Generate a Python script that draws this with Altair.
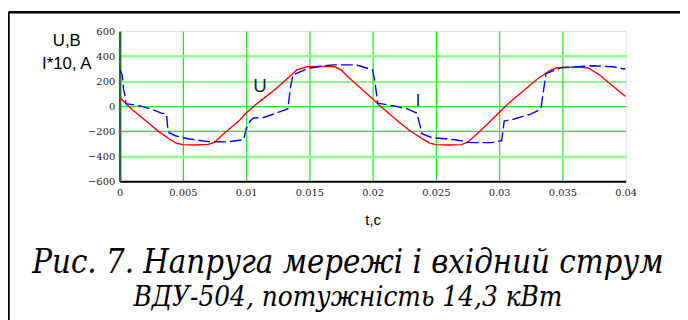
import altair as alt
import pandas as pd

# Voltage U (V) vs time t (s)
T_U = [0.0, 0.0007, 0.001, 0.002, 0.003, 0.004, 0.0045, 0.005, 0.006, 0.007,
       0.0075, 0.008, 0.0085, 0.009, 0.0095, 0.010, 0.0106, 0.012, 0.013, 0.014,
       0.0148, 0.016, 0.017, 0.0175, 0.018, 0.019, 0.020, 0.0205, 0.021, 0.022,
       0.023, 0.024, 0.0245, 0.025, 0.026, 0.027, 0.0275, 0.028, 0.029, 0.030,
       0.0305, 0.031, 0.032, 0.033, 0.034, 0.0345, 0.035, 0.036, 0.037, 0.038,
       0.039, 0.0398, 0.040]
U_VALUES = [72, 0, -28, -110, -195, -268, -296, -307, -310, -305,
            -290, -240, -197, -155, -110, -55, 0, 110, 197, 290,
            315, 318, 315, 290, 240, 150, 57, 10, -33, -120,
            -200, -265, -295, -307, -310, -307, -290, -245, -150, -50,
            0, 45, 130, 215, 285, 305, 310, 312, 307, 245,
            160, 94, 78]

# Current I*10 (A) vs time t (s)
T_I = [0.0, 0.0002, 0.0003, 0.0004, 0.0005, 0.0012, 0.0017, 0.0025, 0.0033, 0.0037,
       0.0038, 0.0039, 0.0044, 0.0054, 0.0070, 0.0085, 0.0098, 0.0100, 0.0103, 0.0106,
       0.0114, 0.0124, 0.0133, 0.0135, 0.0137, 0.0148, 0.0160, 0.0169, 0.0187, 0.0200,
       0.0202, 0.0204, 0.0218, 0.0228, 0.0235, 0.0239, 0.0247, 0.0257, 0.0265, 0.0278,
       0.0294, 0.0302, 0.0304, 0.0312, 0.0325, 0.0333, 0.0335, 0.0337, 0.0349, 0.0374,
       0.0390, 0.0398, 0.0400]
I_VALUES = [295, 250, 140, 95, 20, 10, 0, -24, -55, -63,
            -175, -212, -236, -260, -283, -285, -268, -180, -120, -94,
            -90, -55, -20, 150, 250, 299, 320, 330, 330, 290,
            181, 24, 0, -24, -55, -220, -252, -260, -268, -291,
            -291, -275, -118, -102, -63, -24, 120, 260, 307, 323,
            315, 299, 299]

X_TICKS = [0, 0.005, 0.01, 0.015, 0.02, 0.025, 0.03, 0.035, 0.04]
Y_TICKS = [-600, -400, -200, 0, 200, 400, 600]

LABEL_TEXT = ["U", "I"]
LABEL_T = [0.0111, 0.0236]
LABEL_V = [110, 4]
LABEL_SIZE = [19, 17]

Y_TITLE = ["U,B", "I*10, A"]
X_TITLE = "t,c"
CAPTION = ["Рис. 7. Напруга мережі і вхідний струм",
           "ВДУ-504, потужність 14,3 кВт"]

SERIF = "DejaVu Serif"
CAPTION_FONT = "DejaVu Serif Condensed"
SANS = "Liberation Sans"

df_u = pd.DataFrame({"t": T_U, "v": U_VALUES})
df_i = pd.DataFrame({"t": T_I, "v": I_VALUES})
df_lab = pd.DataFrame({"t": LABEL_T, "v": LABEL_V, "txt": LABEL_TEXT, "size": LABEL_SIZE})

x_scale = alt.Scale(domain=[0, 0.04], nice=False, zero=False)
y_scale = alt.Scale(domain=[-600, 600], nice=False, zero=False)

x_axis = alt.Axis(
    values=X_TICKS, format="~g", labelFont=SERIF, labelFontSize=10,
    labelColor="#222", labelPadding=6, ticks=False, domainColor="black", domainWidth=2,
    gridColor="#1ee61e", gridWidth=1.2,
    gridOpacity=alt.condition("datum.value == 0 || datum.value > 0.0399", alt.value(0), alt.value(1)),
    labelFlush=False, labelOverlap=False, labelBound=False,
    title=X_TITLE, titleFont=SANS, titleFontSize=15, titleFontWeight="normal",
    titleColor="black", titleY=43.5, titleBaseline="alphabetic",
)
y_axis = alt.Axis(
    values=Y_TICKS, labelExpr="datum.value < 0 ? '\u2212' + abs(datum.value) : datum.label",
    labelFont=SERIF, labelFontSize=10, labelColor="#222", labelPadding=5,
    ticks=False, domainColor="#2d6b2d", domainWidth=2.5,
    labelFlush=False, labelOverlap=False, labelBound=False,
    gridColor=alt.condition("abs(datum.value) == 400", alt.value("#8cff8c"), alt.value("#1ee61e")),
    gridWidth=alt.condition("abs(datum.value) == 400", alt.value(2.5), alt.value(1.2)),
    gridOpacity=alt.condition("abs(datum.value) == 600", alt.value(0), alt.value(1)),
    title=Y_TITLE, titleAngle=0, titleX=-54, titleY=14.5, titleAlign="center",
    titleBaseline="alphabetic", titleFont=SANS, titleFontSize=17,
    titleFontWeight="normal", titleLineHeight=23, titleColor="black",
)

u_line = alt.Chart(df_u).mark_line(color="#ff0000", strokeWidth=1.4, clip=True).encode(
    x=alt.X("t:Q", scale=x_scale, axis=x_axis),
    y=alt.Y("v:Q", scale=y_scale, axis=y_axis),
)
i_line = alt.Chart(df_i).mark_line(color="#0000ff", strokeWidth=1.4, strokeDash=[12, 4], clip=True).encode(
    x=alt.X("t:Q", scale=x_scale, axis=x_axis),
    y=alt.Y("v:Q", scale=y_scale, axis=y_axis),
)
labels = alt.Chart(df_lab).mark_text(font=SANS, color="#222", align="center",
                                      baseline="alphabetic").encode(
    x=alt.X("t:Q", scale=x_scale, axis=x_axis),
    y=alt.Y("v:Q", scale=y_scale, axis=y_axis),
    text="txt:N", size=alt.Size("size:Q", scale=None, legend=None),
)

frame_df = pd.DataFrame({"a": [0]})
border_left = alt.Chart(frame_df).mark_rule(color="black", strokeWidth=2.5, clip=False).encode(
    x=alt.value(-112.5), y=alt.value(-19), y2=alt.value(300))
border_top = alt.Chart(frame_df).mark_rule(color="black", strokeWidth=2.5, clip=False).encode(
    x=alt.value(-112.5), x2=alt.value(600), y=alt.value(-19))

caption1 = alt.Chart(frame_df).mark_text(
    text=CAPTION[0], font=CAPTION_FONT, fontStyle="italic", fontSize=33,
    color="black", align="center", baseline="alphabetic", clip=False,
).encode(x=alt.value(231), y=alt.value(244.5))
caption2 = alt.Chart(frame_df).mark_text(
    text=CAPTION[1], font=CAPTION_FONT, fontStyle="italic", fontSize=28,
    color="black", align="center", baseline="alphabetic", clip=False,
).encode(x=alt.value(231), y=alt.value(278.5))

chart = alt.layer(u_line, i_line, labels, border_left, border_top, caption1, caption2).properties(
    width=512, height=152,
    autosize=alt.AutoSizeParams(type="none"),
    padding={"left": 113, "top": 21.5, "right": 55, "bottom": 138.5},
).configure_view(stroke="black", strokeWidth=1.5).configure(background="white")

chart.save("out.html", embed_options={"renderer": "svg", "actions": False})
